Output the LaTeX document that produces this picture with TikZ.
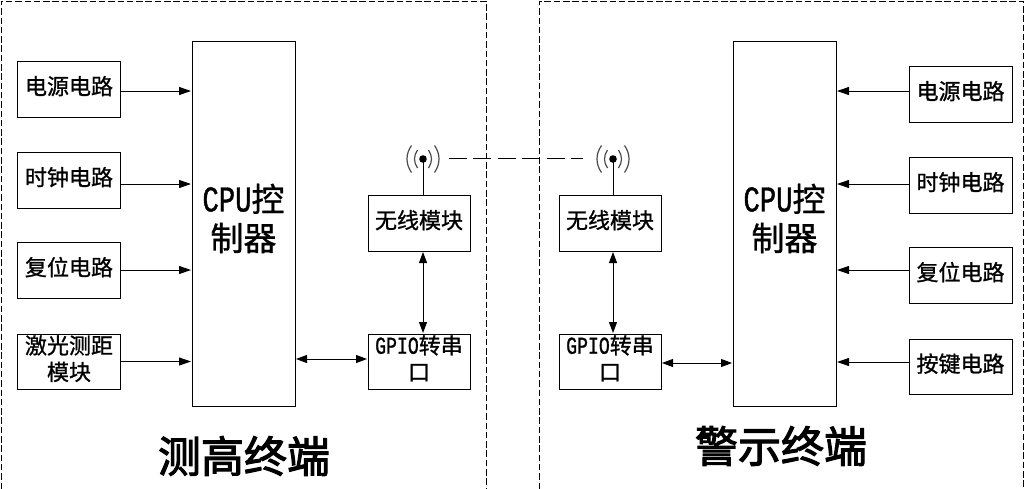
\documentclass[tikz,border=0pt]{standalone}
\usepackage{fontspec}
\setmainfont{Noto Sans CJK SC}[FakeBold=1]
\newfontfamily\headingfont{Noto Sans CJK SC}[FakeBold=2.5]
\newfontfamily\halfmono{Liberation Mono}[FakeStretch=0.75,Scale=1.1,FakeBold=1]
\usetikzlibrary{arrows.meta}
\tikzset{
  x=1pt,y=-1pt,
  every node/.style={inner sep=0pt,outer sep=0pt},
  unit/.style={draw=black,line width=0.9pt,fill=white,minimum width=103pt,minimum height=56pt,align=center,text depth=7.5pt,font=\fontsize{22}{26.5}\selectfont},
  core/.style={unit,minimum height=365pt,text depth=12.8pt,font=\fontsize{33}{39}\selectfont},
  heading/.style={font=\headingfont\fontsize{43}{43}\selectfont},
  flow/.style={line width=0.9pt,-{Triangle[length=12pt,width=8pt]},shorten >=1pt},
  bothway/.style={line width=0.9pt,{Triangle[length=11pt,width=8pt]}-{Triangle[length=11pt,width=8pt]},shorten >=1pt,shorten <=1pt},
  frame/.style={line width=0.7pt,dash pattern=on 6.5pt off 2.8pt},
  wave/.style={draw=black!70,line width=1.2pt},
  mast/.style={line width=1pt},
  radiolink/.style={line width=0.9pt,dash pattern=on 18pt off 6.5pt}
}
\newcommand{\lat}[1]{{\halfmono #1}}
% antenna symbol: dot with two pairs of radio-wave arcs
\newcommand{\antenna}[2]{%
  \fill (#1,#2) circle (3.8pt);
  \foreach \s in {1,-1}{
    \draw[wave] (#1+\s*5.5,#2-9) .. controls (#1+\s*9.5,#2-3) and (#1+\s*9.5,#2+3) .. (#1+\s*5.5,#2+9);
    \draw[wave] (#1+\s*11.5,#2-13.5) .. controls (#1+\s*17.5,#2-5) and (#1+\s*17.5,#2+5) .. (#1+\s*11.5,#2+13.5);
  }}
\begin{document}
\begin{tikzpicture}
\useasboundingbox (0,0) rectangle (1024,488);
\draw[frame] (1,489) -- (1,1) -- (486.5,1) -- (486.5,489);
\draw[frame] (539.5,489) -- (539.5,1) -- (1023,1) -- (1023,489);

% measuring terminal
\node[unit] (pwrL) at (69,89) {电源电路};
\node[unit] (clkL) at (69,180) {时钟电路};
\node[unit] (rstL) at (69,270) {复位电路};
\node[unit,minimum height=55pt] (lsrL) at (69,361.5) {激光测距\\模块};
\node[core] (cpuL) at (243.5,223.5) {\lat{CPU}控\\制器};
\node[unit,minimum width=102pt] (radL) at (419,223) {无线模块};
\node[unit,minimum width=102pt,minimum height=55pt] (gpioL) at (419,361.5) {\lat{GPIO}转串\\口};
\node[heading] (titleL) at (244,456) {测高终端};

% warning terminal
\node[unit] (pwrR) at (960.5,94) {电源电路};
\node[unit] (clkR) at (960.5,185) {时钟电路};
\node[unit] (rstR) at (960.5,275) {复位电路};
\node[unit,minimum height=55pt] (keyR) at (960.5,366.5) {按键电路};
\node[core] (cpuR) at (784.5,223.5) {\lat{CPU}控\\制器};
\node[unit,minimum width=102pt] (radR) at (610,223) {无线模块};
\node[unit,minimum width=102pt,minimum height=55pt] (gpioR) at (610,361.5) {\lat{GPIO}转串\\口};
\node[heading] (titleR) at (781,446) {警示终端};

% inputs of the two controllers
\draw[flow] ([yshift=-2pt]pwrL.east) coordinate (t) -- (cpuL.west |- t);
\draw[flow] ([yshift=-4pt]clkL.east) coordinate (t) -- (cpuL.west |- t);
\draw[flow] (rstL.east) -- (cpuL.west |- rstL.east);
\draw[flow] (lsrL.east) -- (cpuL.west |- lsrL.east);
\draw[flow] ([yshift=3pt]pwrR.west) coordinate (t) -- (cpuR.east |- t);
\draw[flow] ([yshift=1pt]clkR.west) coordinate (t) -- (cpuR.east |- t);
\draw[flow] ([yshift=5pt]rstR.west) coordinate (t) -- (cpuR.east |- t);
\draw[flow] ([yshift=4.5pt]keyR.west) coordinate (t) -- (cpuR.east |- t);

% serial and radio connections
\draw[bothway] ([yshift=2.5pt]gpioL.west) coordinate (t) -- (cpuL.east |- t);
\draw[bothway] ([yshift=-1.5pt]gpioR.east) coordinate (t) -- (cpuR.west |- t);
\draw[bothway] ([xshift=4pt]radL.south) -- ([xshift=4pt]gpioL.north);
\draw[bothway] ([xshift=3pt]radR.south) -- ([xshift=3pt]gpioR.north);

% antennas and the wireless link
\coordinate (antL) at (423,159);
\coordinate (antR) at (613,159);
\coordinate (linkA) at (448.5,158.5);
\coordinate (linkB) at (582.5,158.5);
\antenna{423}{159}
\antenna{613}{159}
\draw[mast] (antL) -- (antL |- radL.north);
\draw[mast] (antR) -- (antR |- radR.north);
\draw[radiolink] (linkA) -- (linkB);
\end{tikzpicture}
\end{document}
